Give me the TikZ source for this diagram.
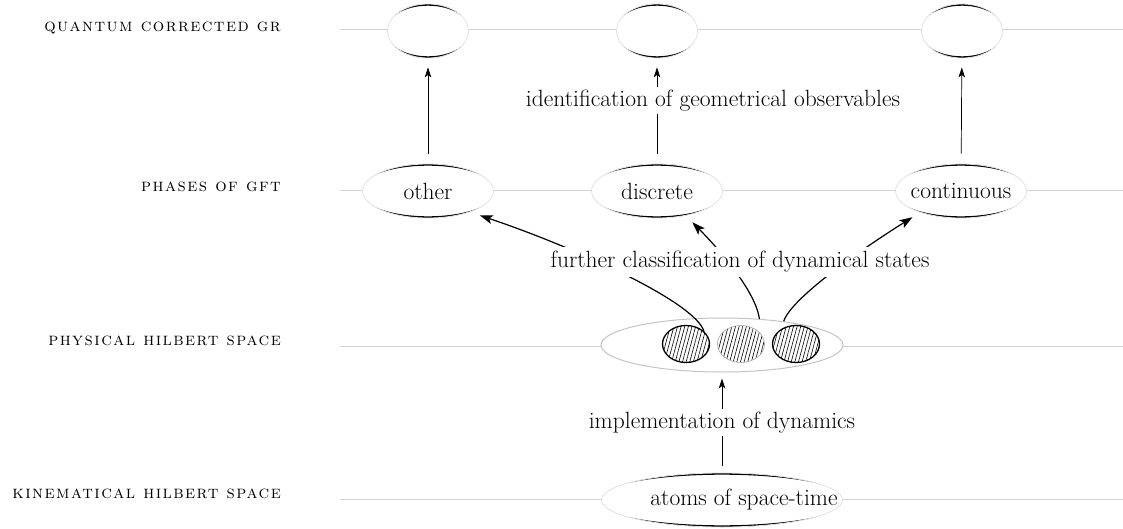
\documentclass[tikz,border=0pt]{standalone}
\usepackage{fontspec}
\usepackage{tikz}
\usetikzlibrary{calc,positioning,arrows.meta,backgrounds,shapes.geometric,patterns.meta}
\newfontfamily\rowfont{lmromancaps10-regular.otf}[LetterSpace=8]
\definecolor{Rule}{HTML}{D2D2D2}
\definecolor{Ring}{HTML}{E2E2E2}
\definecolor{Hull}{HTML}{C4C4C4}
\tikzset{
  rowline/.style={draw=Rule,line width=1pt},
  rowlabel/.style={anchor=east,inner sep=0pt,font=\rowfont\fontsize{18}{21}\selectfont},
  blob/.style={ellipse,draw=Ring,line width=.8pt,fill=white,minimum height=54pt,inner xsep=-9pt,
    font=\fontsize{23.5}{27}\selectfont,
    path picture={\draw[black,line width=3pt] let \p1=($(path picture bounding box.north east)-(path picture bounding box.center)$) in
      (path picture bounding box.center) ellipse [x radius=1.08*\x1,y radius=\y1-.2pt];}},
  sbox/.style={blob,minimum width=81pt},
  phase/.style={blob,minimum width=131pt},
  hilb/.style={ellipse,draw=Hull,line width=1pt,fill=white,minimum width=242pt,minimum height=54pt},
  state/.style={ellipse,minimum width=47pt,minimum height=37pt,inner sep=0pt,draw=black,line width=1.3pt,
    pattern={Lines[angle=75,distance=3.5pt,line width=.6pt]}},
  upto/.style={-{Stealth[length=10pt,width=6.5pt,inset=2.5pt]},line width=.7pt,shorten <=10pt,shorten >=9pt},
  curvy/.style={-{Stealth[length=13pt,width=9pt,inset=3pt]},line width=1.2pt},
  says/.style={fill=white,inner xsep=3pt,inner ysep=3pt,font=\fontsize{23.5}{27}\selectfont}
}
\begin{document}
\begin{tikzpicture}[x=1pt,y=-1pt]
\useasboundingbox (0,0) rectangle (1123,529);
\node[rowlabel] (lq) at (281,28) {quantum corrected gr};
\node[rowlabel] (lp) at (281,187) {phases of gft};
\node[rowlabel] (lh) at (281,341) {physical hilbert space};
\node[rowlabel] (lk) at (281,494) {kinematical hilbert space};
\node[sbox] (qa) at (428,31) {};
\node[sbox] (qb) at (657,31) {};
\node[sbox] (qc) at (962,31) {};
\node[phase] (other) at (428,191) {other};
\node[phase] (discrete) at (657,191) {discrete};
\node[phase] (continuous) at (961,191) {continuous};
\node[hilb] (phys) at (722,345) {};
\node[state] (s1) at (686,344) {};
\node[state,draw=gray!70,line width=.6pt] (s2) at (741,344) {};
\node[state] (s3) at (796,344) {};
\node[blob,minimum width=241pt,inner xsep=-40pt] (atoms) at (722,500) {\hspace*{44pt}atoms of space-time};
\begin{scope}[on background layer]
\foreach \n/\y in {q/30,p/191,h/346,k/499}
  \draw[rowline] (340,\y) coordinate (\n0) -- (1123,\y) coordinate (\n1);
\end{scope}
\draw[upto] (other) -- (qa);
\draw[upto] (discrete) -- node[says,pos=.6,xshift=56pt]{identification of geometrical observables} (qb);
\draw[upto] (continuous) -- (qc);
\draw[upto,shorten <=7pt,shorten >=6pt] (atoms) -- node[says]{implementation of dynamics} (phys);
\draw[curvy] (s1.34) .. controls +(-8,-30) and +(90,30) .. ([shift={(8,4)}]other.-25);
\draw[curvy] (phys.35) .. controls +(-4,-30) and +(20,20) .. ([shift={(10,6)}]discrete.-45);
\draw[curvy] (phys.21) .. controls +(8,-25) and +(-40,25) .. ([shift={(-10,4)}]continuous.-150);
\node[says,inner ysep=4pt] (classify) at (740,262) {further classification of dynamical states};
\end{tikzpicture}
\end{document}
